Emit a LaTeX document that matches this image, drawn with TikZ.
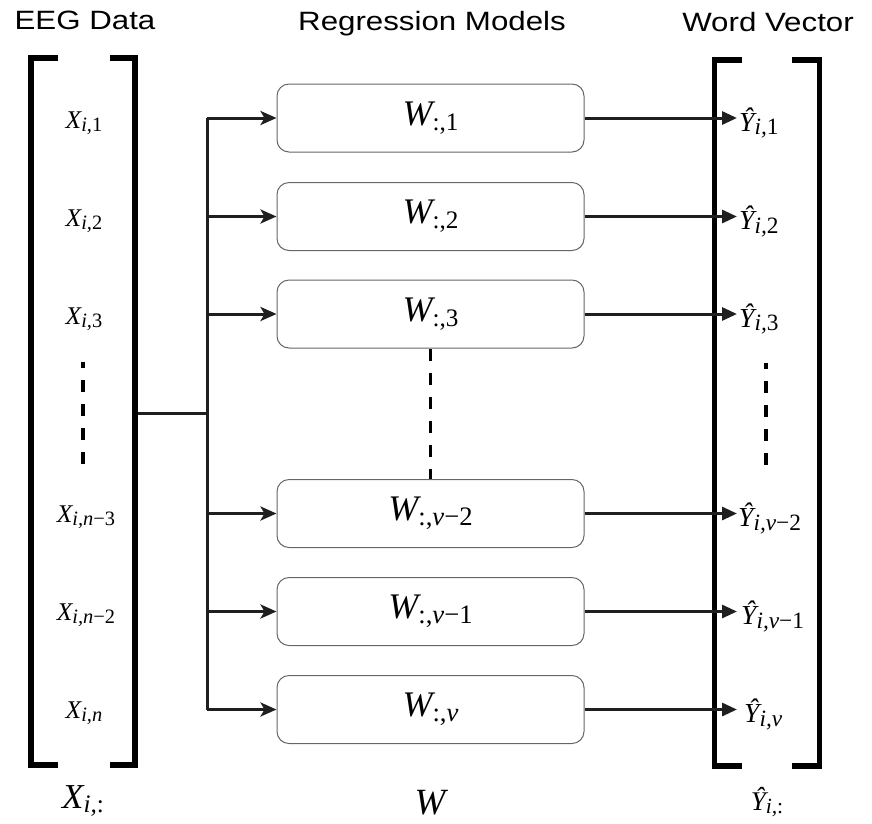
\documentclass[tikz,border=0pt]{standalone}
\usepackage{fontspec}
\newfontfamily\titlefont{Liberation Sans}
\newfontfamily\tms{Liberation Serif}
\newcommand\sbx[2][0.8]{\raisebox{-0.14em}{\scalebox{#1}{#2}}}
\newcommand\upx[1]{{\upshape #1}}
\usetikzlibrary{arrows.meta}

\begin{document}
\begin{tikzpicture}[x=1pt,y=-1pt,
  model/.style={draw=black!60, line width=1pt, rounded corners=12pt, minimum width=307pt, minimum height=68pt, inner sep=0pt, font=\tms\itshape\fontsize{36}{40}\selectfont},
  conn/.style={line width=3pt, draw=black!88},
  inarrow/.style={conn, -{Stealth[length=16pt,width=14pt,inset=4pt]}},
  outarrow/.style={conn, -{Triangle[length=15pt,width=13pt]}},
  brk/.style={line width=5.5pt, line join=miter, line cap=butt},
  elem/.style={font=\tms\itshape\fontsize{25.5}{28}\selectfont, anchor=base, inner sep=0pt},
  yel/.style={font=\tms\itshape\fontsize{27.5}{30}\selectfont, anchor=base west, inner sep=0pt},
  bottomlbl/.style={anchor=base, inner sep=0pt},
  ttl/.style={font=\titlefont\fontsize{26.5}{30}\selectfont, anchor=base, inner sep=0pt},
  dots/.style={line width=3.6pt, dash pattern=on 12pt off 12pt}
]
\useasboundingbox (0,0) rectangle (872,823);

% titles
\node[ttl] (t1) at (85,29) {\scalebox{1.18}[1]{EEG Data}};
\node[ttl] (t2) at (432,30) {\scalebox{1.18}[1]{Regression Models}};
\node[ttl] (t3) at (768,31) {\scalebox{1.18}[1]{Word Vector}};

% left bracket
\draw[brk] (58,58) -- (31,58) -- (31,765) -- (58,765);
\draw[brk] (110,58) -- (135,58) -- (135,765) -- (110,765);
% right bracket
\draw[brk] (742,60) -- (714.5,60) -- (714.5,766) -- (742,766);
\draw[brk] (792,60) -- (819.5,60) -- (819.5,766) -- (792,766);

% X elements
\node[elem] (x1) at (84,128) {X\sbx{i,\upx{1}}};
\node[elem] (x2) at (84,226) {X\sbx{i,\upx{2}}};
\node[elem] (x3) at (84,324) {X\sbx{i,\upx{3}}};
\node[elem] (x4) at (86,522) {X\sbx{i,n\upx{−3}}};
\node[elem] (x5) at (86,620) {X\sbx{i,n\upx{−2}}};
\node[elem] (x6) at (84,718) {X\sbx{i,n}};
\coordinate (xd1) at (83,362);
\coordinate (xd2) at (83,464);
\draw[dots, dash phase=6pt] (xd1) -- (xd2);

% models
\node[model] (w1) at (430.5,118) {W\sbx[0.7]{\upx{:,1}}};
\node[model] (w2) at (430.5,216.5) {W\sbx[0.7]{\upx{:,2}}};
\node[model] (w3) at (430.5,314) {W\sbx[0.7]{\upx{:,3}}};
\node[model] (w4) at (430.5,513.5) {W\sbx[0.74]{\upx{:,}v\upx{−2}}};
\node[model] (w5) at (430.5,611.5) {W\sbx[0.74]{\upx{:,}v\upx{−1}}};
\node[model] (w6) at (430.5,709.5) {W\sbx[0.74]{\upx{:,}v}};
\draw[dots, line width=3.2pt] (w3.south) -- (w4.north);

% trunk and inputs
\coordinate (xr) at (137.5,413);
\coordinate (tr) at (207,0);
\draw[conn] (xr) -- (xr -| tr);
\draw[conn, line cap=butt] (w1.west -| tr) -- (w6.west -| tr);
\foreach \n in {1,...,6} {
  \draw[inarrow] (w\n.west -| tr) -- (w\n.west);
}

% outputs
\coordinate (yt) at (737,0);
\foreach \n in {1,...,6} {
  \draw[outarrow] (w\n.east) -- (w\n.east -| yt);
}
\node[yel] (y1) at (739,131) {Ŷ\sbx[0.85]{i,\upx{1}}};
\node[yel] (y2) at (739,229.5) {Ŷ\sbx[0.85]{i,\upx{2}}};
\node[yel] (y3) at (739,327) {Ŷ\sbx[0.85]{i,\upx{3}}};
\node[yel] (y4) at (738,526.5) {Ŷ\sbx[0.85]{i,v\upx{−2}}};
\node[yel] (y5) at (741,624.5) {Ŷ\sbx[0.85]{i,v\upx{−1}}};
\node[yel] (y6) at (744,722.5) {Ŷ\sbx[0.85]{i,v}};
\coordinate (yd1) at (766,363);
\coordinate (yd2) at (766,465);
\draw[dots, dash phase=6pt] (yd1) -- (yd2);

% bottom labels
\node[bottomlbl, font=\tms\itshape\fontsize{35}{40}\selectfont] (xall) at (83,808) {X\sbx[0.72]{i,\upx{:}}};
\node[bottomlbl, font=\tms\itshape\fontsize{37}{40}\selectfont] (wall) at (430,814) {W};
\node[bottomlbl, font=\tms\itshape\fontsize{27}{32}\selectfont] (yall) at (767,810) {Ŷ\sbx[0.8]{i,\upx{:}}};
\end{tikzpicture}
\end{document}
